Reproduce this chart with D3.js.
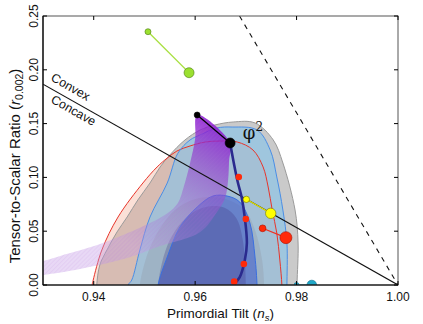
<!DOCTYPE html>
<html>
<head>
<meta charset="utf-8">
<script src="https://cdn.jsdelivr.net/npm/d3@7/dist/d3.min.js"></script>
<style>
body { margin: 0; background: #fff; }
text { font-family: "Liberation Sans", Arial, sans-serif; fill: #111; }
</style>
</head>
<body>
<script>
// axes
var xTicks = [0.94, 0.96, 0.98, 1.00];
var yTicks = [0.00, 0.05, 0.10, 0.15, 0.20, 0.25];

// outer (95%) contours, [n_s, r]
var gray95 = [[0.9406,-0.01],[0.9406,0.000],[0.9412,0.0186],[0.9426,0.0325],[0.9446,0.0493],[0.9466,0.0632],[0.9487,0.0790],
    [0.9511,0.0948],[0.9531,0.1097],[0.9550,0.1208],[0.9580,0.1348],[0.9610,0.1441],[0.9639,0.1487],[0.9675,0.1515],
    [0.9718,0.1506],[0.9754,0.1348],[0.9773,0.1134],[0.9797,0.0697],[0.9803,0.0390],[0.9801,0.0019],[0.9801,-0.01]];
var red95 = [[0.9397,-0.01],[0.9397,0.000],[0.9399,0.0046],[0.9416,0.0325],[0.9448,0.0632],[0.9497,0.0948],[0.9525,0.1097],
    [0.9545,0.1180],[0.9564,0.1245],[0.9590,0.1292],[0.9620,0.1329],[0.9649,0.1338],[0.9683,0.1329],[0.9714,0.1255],
    [0.9734,0.1097],[0.9744,0.0911],[0.9752,0.0697],[0.9761,0.0483],[0.9767,0.0232],[0.9771,0.000],[0.9771,-0.01]];
var blue95 = [[0.9468,-0.01],[0.9468,0.000],[0.9475,0.0046],[0.9491,0.0325],[0.9511,0.0632],[0.9545,0.0948],[0.9566,0.1225],
    [0.9590,0.1348],[0.9610,0.1395],[0.9643,0.1459],[0.9673,0.1468],[0.9722,0.1441],[0.9748,0.1255],[0.9761,0.1004],
    [0.9773,0.0697],[0.9781,0.0390],[0.9781,0.000],[0.9781,-0.01]];

// inner (68%) contours
var gray68 = [[0.9491,-0.01],[0.9491,0.000],[0.9501,0.0214],[0.9515,0.0390],[0.9535,0.0558],[0.9560,0.0697],[0.9594,0.0790],
    [0.9629,0.0818],[0.9665,0.0790],[0.9698,0.0697],[0.9718,0.0511],[0.9732,0.0232],[0.9736,0.000],[0.9736,-0.01]];
var blue68 = [[0.9527,-0.01],[0.9527,0.000],[0.9545,0.0260],[0.9570,0.0539],[0.9604,0.0725],[0.9635,0.0827],[0.9663,0.0827],
    [0.9688,0.0771],[0.9708,0.0576],[0.9718,0.0260],[0.9722,0.000],[0.9722,-0.01]];
var core68 = [[0.9527,-0.01],[0.9527,0.000],[0.9535,0.0214],[0.9550,0.0418],[0.9574,0.0586],[0.9604,0.0697],[0.9633,0.0734],
    [0.9659,0.0716],[0.9681,0.0623],[0.9694,0.0418],[0.9700,0.000],[0.9700,-0.01]];

// natural inflation band: N=50 edge then N=60 edge
var natN50 = [[0.9604,0.1580],[0.9600,0.1357],[0.9590,0.1134],[0.9578,0.0920],[0.9566,0.0762],[0.9546,0.0669],
    [0.9511,0.0576],[0.9418,0.0390],[0.9334,0.0270],[0.9300,0.0223],[0.9260,0.0195]];
var natN60 = [[0.9669,0.1320],[0.9667,0.1162],[0.9665,0.0976],[0.9659,0.0809],[0.9643,0.0678],[0.9610,0.0493],
    [0.9531,0.0362],[0.9466,0.0251],[0.9373,0.0149],[0.9300,0.0093],[0.9260,0.0070]];

// model tracks
var convexLine = [[0.93, 0.18667],[1.00, 0.0]];
var dashedLine = [[0.96875, 0.25],[1.00, 0.0]];
var navyTrack = [[0.9669,0.1320],[0.9677,0.1115],[0.9684,0.0957],[0.9692,0.0809],[0.9698,0.0623],[0.9702,0.0390],
    [0.9698,0.0232],[0.9688,0.0074],[0.9675,0.000]];
var navyDots = [[0.9686,0.1004],[0.9700,0.0613],[0.9696,0.0195],[0.9677,0.0031]];

var greenPair = [[0.9507,0.2354],[0.9588,0.1973]];
var blackPair = [[0.9604,0.1580],[0.9669,0.1320]];
var yellowPair = [[0.9701,0.0796],[0.9749,0.0666]];
var redPair = [[0.9733,0.0527],[0.9779,0.0440]];
var tealPair = [[0.9800,0.000],[0.9830,0.000]];

draw();

function draw ()
{
    var width = 423, height = 324;
    var left = 43, right = 398, top = 16, bottom = 285;

    var svg = d3.select("body").append("svg")
        .attr("width", width)
        .attr("height", height);
    var defs = svg.append("defs");

    var x = d3.scaleLinear().domain([0.93, 1.00]).range([left, right]);
    var y = d3.scaleLinear().domain([0, 0.25]).range([bottom, top]);

    defs.append("clipPath").attr("id", "plot")
        .append("rect")
        .attr("x", left).attr("y", top)
        .attr("width", right - left).attr("height", bottom - top);

    // purple fades from the phi^2 end towards the thin tail
    var grad = defs.append("linearGradient")
        .attr("id", "natural")
        .attr("gradientUnits", "userSpaceOnUse")
        .attr("x1", x(0.9625)).attr("y1", y(0.150))
        .attr("x2", x(0.948)).attr("y2", y(0.035));
    grad.append("stop").attr("offset", 0).attr("stop-color", "#8c1cd0").attr("stop-opacity", 0.85);
    grad.append("stop").attr("offset", 0.3).attr("stop-color", "#9440cc").attr("stop-opacity", 0.6);
    grad.append("stop").attr("offset", 0.65).attr("stop-color", "#a070d4").attr("stop-opacity", 0.38);
    grad.append("stop").attr("offset", 1).attr("stop-color", "#c39ae6").attr("stop-opacity", 0.38);

    var hatch = defs.append("pattern")
        .attr("id", "hatch")
        .attr("patternUnits", "userSpaceOnUse")
        .attr("width", 3).attr("height", 3)
        .attr("patternTransform", "rotate(45)");
    hatch.append("line").attr("x1", 0).attr("x2", 0).attr("y1", 0).attr("y2", 3)
        .style("stroke", "#b070d8").style("stroke-width", 0.6).style("stroke-opacity", 0.35);

    var line = d3.line()
        .x(d => x(d[0]))
        .y(d => y(d[1]))
        .curve(d3.curveCatmullRom);

    var g = svg.append("g").attr("clip-path", "url(#plot)");

    // contour fills
    g.append("path").attr("d", line(gray95)).style("fill", "#cacaca");
    g.append("path").attr("d", line(red95)).style("fill", "rgba(242,160,130,0.32)");
    g.append("path").attr("d", line(blue95)).style("fill", "rgba(130,195,235,0.6)");
    g.append("path").attr("d", line(gray68)).style("fill", "rgba(140,140,150,0.25)");
    g.append("path").attr("d", line(blue68)).style("fill", "rgba(60,90,205,0.55)");
    g.append("path").attr("d", line(core68)).style("fill", "rgba(60,50,130,0.28)");

    // contour outlines
    g.append("path").attr("d", line(gray95)).style("fill", "none").style("stroke", "#9a9a9a").style("stroke-width", 1);
    g.append("path").attr("d", line(red95)).style("fill", "none").style("stroke", "#e8342a").style("stroke-width", 1);
    g.append("path").attr("d", line(blue95)).style("fill", "none").style("stroke", "#4a8ee6").style("stroke-width", 1);
    g.append("path").attr("d", line(blue68)).style("fill", "none").style("stroke", "#3a6fe0").style("stroke-width", 1);

    // natural inflation region
    var band = natN50.concat(natN60.slice().reverse());
    var bandPath = d3.line().x(d => x(d[0])).y(d => y(d[1])).curve(d3.curveCatmullRomClosed)(band);
    g.append("path").attr("d", bandPath).style("fill", "url(#natural)");
    g.append("path").attr("d", bandPath).style("fill", "url(#hatch)");

    // convex / concave boundary and dashed line
    var straight = d3.line().x(d => x(d[0])).y(d => y(d[1]));
    g.append("path").attr("d", straight(convexLine))
        .style("stroke", "#111").style("stroke-width", 1.1).style("fill", "none");
    g.append("path").attr("d", straight(dashedLine))
        .style("stroke", "#111").style("stroke-width", 1.1).style("stroke-dasharray", "5,5").style("fill", "none");

    g.append("path").attr("d", line(navyTrack))
        .style("stroke", "#2a2a8e").style("stroke-width", 2.6).style("fill", "none");

    g.selectAll(".navydot").data(navyDots).enter().append("circle")
        .attr("cx", d => x(d[0])).attr("cy", d => y(d[1])).attr("r", 3.3)
        .style("fill", "#ff2a0a");

    function pair (data, color, stroke, lineColor, r0, r1)
    {
        g.append("path").attr("d", straight(data))
            .style("stroke", lineColor).style("stroke-width", 1.2).style("fill", "none");
        g.append("circle").attr("cx", x(data[0][0])).attr("cy", y(data[0][1])).attr("r", r0)
            .style("fill", color).style("stroke", stroke).style("stroke-width", 0.6);
        g.append("circle").attr("cx", x(data[1][0])).attr("cy", y(data[1][1])).attr("r", r1)
            .style("fill", color).style("stroke", stroke).style("stroke-width", 0.6);
    }
    pair(greenPair, "#9be030", "#4a7a10", "#a8e040", 3, 5);
    pair(blackPair, "#000", "#000", "#000", 3, 5);
    pair(yellowPair, "#ffff00", "#777700", "#e8e800", 3.2, 5.2);
    pair(redPair, "#ff2a0a", "#aa1000", "#f03020", 3.4, 6);
    pair(tealPair, "#20a8c8", "#107090", "#20a8c8", 2.5, 4.8);

    // frame
    svg.append("rect")
        .attr("x", left).attr("y", top)
        .attr("width", right - left).attr("height", bottom - top)
        .style("fill", "none").style("stroke", "#555").style("stroke-width", 1);
    svg.append("line").attr("x1", left).attr("x2", right).attr("y1", bottom).attr("y2", bottom)
        .style("stroke", "#000").style("stroke-width", 1.2);
    svg.append("line").attr("x1", left).attr("x2", left).attr("y1", top).attr("y2", bottom)
        .style("stroke", "#000").style("stroke-width", 1.2);

    // ticks on all sides, pointing in
    var tk = 4;
    xTicks.forEach(function (v)
    {
        svg.append("line").attr("x1", x(v)).attr("x2", x(v)).attr("y1", bottom).attr("y2", bottom - tk).style("stroke", "#000");
        svg.append("line").attr("x1", x(v)).attr("x2", x(v)).attr("y1", top).attr("y2", top + tk).style("stroke", "#000");
        svg.append("text").attr("x", x(v)).attr("y", 301)
            .attr("text-anchor", "middle").style("font-size", "12px")
            .text(d3.format(".2f")(v));
    });
    yTicks.forEach(function (v)
    {
        svg.append("line").attr("x1", left).attr("x2", left + tk).attr("y1", y(v)).attr("y2", y(v)).style("stroke", "#000");
        svg.append("line").attr("x1", right).attr("x2", right - tk).attr("y1", y(v)).attr("y2", y(v)).style("stroke", "#000");
        svg.append("text")
            .attr("transform", "translate(38," + y(v) + ") rotate(-90)")
            .attr("text-anchor", "middle").style("font-size", "12px")
            .text(d3.format(".2f")(v));
    });

    // axis titles
    var xt = svg.append("text").attr("x", (left + right) / 2).attr("y", 318)
        .attr("text-anchor", "middle").style("font-size", "13.5px");
    xt.append("tspan").text("Primordial Tilt (");
    xt.append("tspan").style("font-style", "italic").text("n");
    xt.append("tspan").style("font-style", "italic").style("font-size", "9.5px").attr("dy", 2.5).text("s");
    xt.append("tspan").attr("dy", -2.5).text(")");

    var yt = svg.append("text")
        .attr("transform", "translate(20,166) rotate(-90)")
        .attr("text-anchor", "middle").style("font-size", "15px");
    yt.append("tspan").text("Tensor-to-Scalar Ratio (");
    yt.append("tspan").style("font-style", "italic").text("r");
    yt.append("tspan").style("font-size", "10.5px").attr("dy", 3).text("0.002");
    yt.append("tspan").attr("dy", -3).text(")");

    // convex / concave labels
    var ang = Math.atan2(y(convexLine[1][1]) - y(convexLine[0][1]), x(convexLine[1][0]) - x(convexLine[0][0])) * 180 / Math.PI;
    var lineY = d3.scaleLinear().domain([convexLine[0][0], convexLine[1][0]]).range([convexLine[0][1], convexLine[1][1]]);
    svg.append("text")
        .attr("transform", "translate(" + x(0.93071) + "," + y(lineY(0.93071)) + ") rotate(" + ang + ")")
        .attr("y", -7).style("font-size", "12.5px").text("Convex");
    svg.append("text")
        .attr("transform", "translate(" + x(0.93254) + "," + y(lineY(0.93254)) + ") rotate(" + ang + ")")
        .attr("y", 12).style("font-size", "12.5px").text("Concave");

    // phi^2 label
    var ph = svg.append("text").attr("x", x(0.9694)).attr("y", y(0.1357))
        .style("font-family", "'DejaVu Serif', serif").style("font-size", "18px");
    ph.append("tspan").text("φ");
    ph.append("tspan").style("font-size", "12px").attr("dy", -8).text("2");
}
</script>
</body>
</html>
